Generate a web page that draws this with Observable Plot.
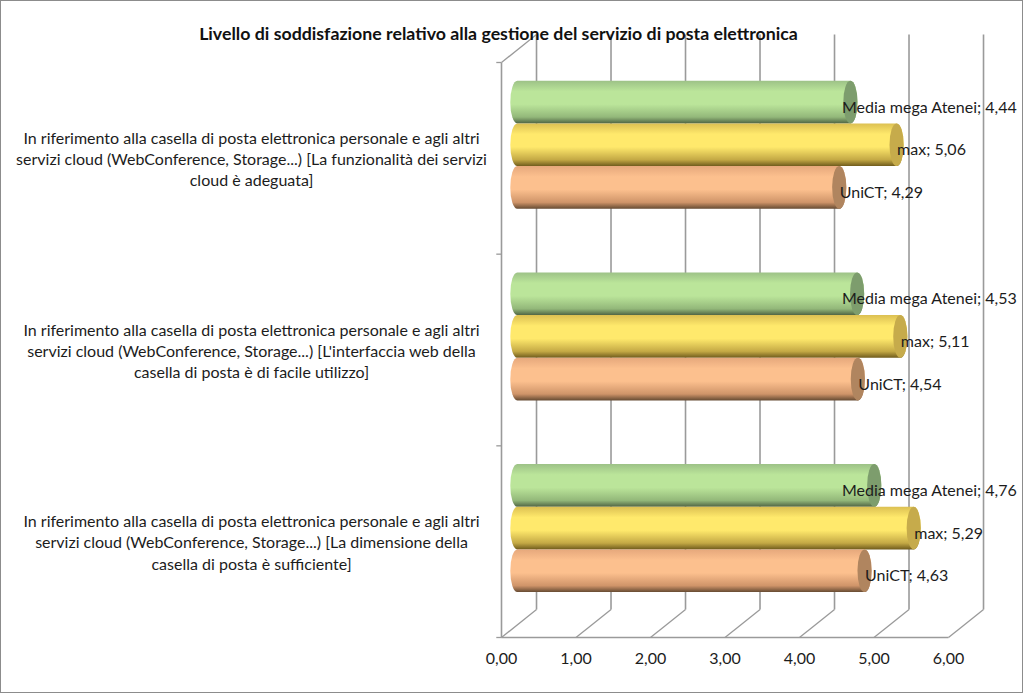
<!DOCTYPE html>
<html><head><meta charset="utf-8">
<script src="https://cdn.jsdelivr.net/npm/d3@7"></script>
<script src="https://cdn.jsdelivr.net/npm/@observablehq/plot@0.6"></script>
<style>
html,body{margin:0;padding:0;background:#fff;width:1024px;height:694px;overflow:hidden}
#chart{position:relative;width:1024px;height:694px}
#chart svg{position:absolute;left:0;top:0;background:transparent}
#title{position:absolute;left:0;top:22px;width:997px;text-align:center;font:bold 17.75px Lato,sans-serif;color:#111;z-index:2}
#border{position:absolute;left:0;top:0;width:1021px;height:691px;border:1.5px solid #8c8c8c;pointer-events:none}
</style></head><body>
<div id="chart"><div id="title">Livello di soddisfazione relativo alla gestione del servizio di posta elettronica</div><div id="border"></div></div>
<script>
const categories = [
  "In riferimento alla casella di posta elettronica personale e agli altri\nservizi cloud (WebConference, Storage...) [La funzionalità dei servizi\ncloud è adeguata]",
  "In riferimento alla casella di posta elettronica personale e agli altri\nservizi cloud (WebConference, Storage...) [L'interfaccia web della\ncasella di posta è di facile utilizzo]",
  "In riferimento alla casella di posta elettronica personale e agli altri\nservizi cloud (WebConference, Storage...) [La dimensione della\ncasella di posta è sufficiente]"
];
const seriesNames = ["Media mega Atenei", "max", "UniCT"];
const mediaValues = [4.44, 4.53, 4.76];
const maxValues = [5.06, 5.11, 5.29];
const unictValues = [4.29, 4.54, 4.63];
const xTicks = [0, 1, 2, 3, 4, 5, 6];
const capColors = ["#7d9d6d", "#c6ab4b", "#b0855f"];
const gradientStops = [
  ["#9dc287", "#bbe59a", "#bbe59a", "#93b87a", "#4f6444"],
  ["#dcc052", "#ffe96c", "#ffe96c", "#c4a945", "#6f5b1c"],
  ["#e6a87c", "#fcc08e", "#fcc08e", "#cf9469", "#654a32"]
];

const fmt = v => v.toFixed(2).replace(".", ",");
const DEPTH_X = 0.47, DEPTH_Y = 0.146, BAR_X = 0.25, CAP = 0.095;
const GROUP_TOP = 0.098, BAR_H = 0.2226;
const FONT = "Lato, sans-serif";
const INK = "#1c1c1c", GRID = "#9a9a9a";
const seriesValues = [mediaValues, maxValues, unictValues];

const rows = seriesValues.map((vals, s) => vals.map((v, i) => ({
  value: v, series: seriesNames[s], s, i,
  y1: i + GROUP_TOP + s * BAR_H,
  y2: i + GROUP_TOP + (s + 1) * BAR_H
})));

const defs = () => {
  const ns = "http://www.w3.org/2000/svg";
  const d = document.createElementNS(ns, "defs");
  gradientStops.forEach((stops, k) => {
    const g = document.createElementNS(ns, "linearGradient");
    g.setAttribute("id", "cyl" + k);
    g.setAttribute("x1", "0"); g.setAttribute("x2", "0");
    g.setAttribute("y1", "0"); g.setAttribute("y2", "1");
    [0, 0.25, 0.55, 0.85, 1].forEach((o, n) => {
      const st = document.createElementNS(ns, "stop");
      st.setAttribute("offset", o);
      st.setAttribute("stop-color", stops[n]);
      g.appendChild(st);
    });
    d.appendChild(g);
  });
  return d;
};

const plot = Plot.plot({
  width: 1024, height: 694,
  marginLeft: 501, marginRight: 76, marginTop: 62, marginBottom: 57,
  style: {fontFamily: FONT, background: "transparent"},
  x: {domain: [0, 6], axis: null},
  y: {domain: [0, 3], reverse: true, axis: null},
  marks: [
    defs,
    // back wall gridlines
    Plot.link(xTicks, {x1: d => d + DEPTH_X, x2: d => d + DEPTH_X, y1: -DEPTH_Y, y2: 3 - DEPTH_Y, stroke: GRID, strokeWidth: 1.6}),
    // floor diagonals
    Plot.link(xTicks, {x1: d => d, x2: d => d + DEPTH_X, y1: 3, y2: 3 - DEPTH_Y, stroke: GRID, strokeWidth: 1.3}),
    Plot.link([0], {x1: 0, x2: DEPTH_X, y1: 0, y2: -DEPTH_Y, stroke: GRID, strokeWidth: 1.3}),
    // front axis lines
    Plot.link([0], {x1: 0, x2: 6, y1: 3, y2: 3, stroke: GRID, strokeWidth: 1.6}),
    Plot.link([0], {x1: 0, x2: 0, y1: 0, y2: 3, stroke: GRID, strokeWidth: 1.6}),
    Plot.link([0, 1, 2, 3], {x1: -0.07, x2: 0, y1: d => d, y2: d => d, stroke: GRID, strokeWidth: 1.3}),
    // cylinders
    ...rows.flatMap((data, k) => [
      Plot.rect(data, {x1: BAR_X - CAP - 0.03, x2: d => d.value + BAR_X + CAP, y1: "y1", y2: "y2", fill: `url(#cyl${k})`, rx: 7, ry: 21}),
      Plot.rect(data, {x1: d => d.value + BAR_X - CAP, x2: d => d.value + BAR_X + CAP, y1: "y1", y2: "y2", fill: capColors[k], rx: 7, ry: 21})
    ]),
    // data labels
    ...rows.map((data, k) => Plot.text(data, {
      x: d => k === 0 ? 4.57 : d.value + BAR_X,
      y: d => (d.y1 + d.y2) / 2,
      dy: 5,
      text: d => `${d.series}; ${fmt(d.value)}`,
      textAnchor: "start", fontSize: 16, fill: INK
    })),
    // category labels
    Plot.text(categories, {
      frameAnchor: "left", dx: -250,
      y: (d, i) => i + 0.5,
      text: d => d,
      textAnchor: "middle", lineAnchor: "middle", lineHeight: 1.33,
      fontSize: 16, fill: INK
    }),
    // x axis labels
    Plot.axisX(xTicks, {anchor: "bottom", tickSize: 0, tickPadding: 15, tickFormat: fmt, fontSize: 16, fill: INK})
  ]
});
document.getElementById("chart").appendChild(plot);
</script>
</body></html>
